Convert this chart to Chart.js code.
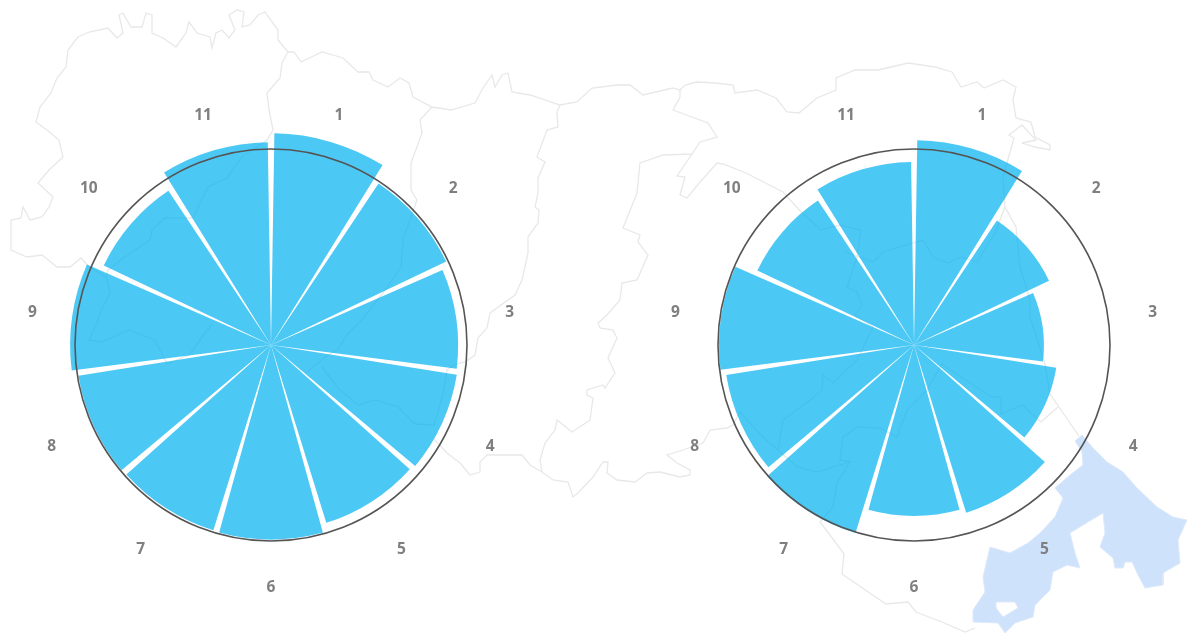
<!DOCTYPE html>
<html>
<head>
<meta charset="utf-8">
<script src="https://cdn.jsdelivr.net/npm/chart.js@4/dist/chart.umd.js"></script>
<style>
html,body{margin:0;padding:0;background:#fff;width:1188px;height:634px;overflow:hidden}
canvas{position:absolute;display:block}
</style>
</head>
<body>
<canvas id="map" width="1188" height="634" style="left:0;top:0"></canvas>
<canvas id="polarA" width="520" height="520" style="left:11px;top:85px"></canvas>
<canvas id="polarB" width="520" height="520" style="left:654px;top:85px"></canvas>
<script>
// Polar data (reference circle = 100)
const categories = ['1','2','3','4','5','6','7','8','9','10','11'];
const leftValues  = [108, 99, 95.5, 96, 95, 99.3, 99, 99.5, 102.5, 94.5, 103.5];
const rightValues = [104.5, 76.3, 66.3, 73.5, 89.6, 87.2, 100.5, 97, 99.5, 88.5, 93.4];

// Basemap outlines, as x,y pairs in page space
const mapNorthWest = [288,52,278,40,278,30,265,12,258,15,250,25,242,27,244,12,237,10,229,15,235,30,229,38,222,30,216,33,212,48,210,37,197,33,189,22,186,33,176,47,163,38,152,33,152,15,146,13,142,27,131,27,123,13,119,15,123,33,117,38,108,28,89,32,78,37,68,50,66,67,57,78,51,93,40,107,36,122,47,130,59,140,63,157,49,170,38,183,53,197,49,207,42,217,30,220,23,207,21,218,11,220,11,250,27,257,42,255,57,267,70,267,81,258,89,267,106,277,110,293,100,313,98,320,89,340,102,342,129,330,155,340,167,364,189,355,212,324];
const mapInnerWest = [288,52,282,63,280,78,267,93,269,110,273,130,267,140,242,157,227,178,208,187,193,218,165,218,152,230,150,240,125,257,108,270,106,277];
const mapNorth = [288,52,294,52,301,62,322,52,343,58,358,72,369,72,373,80,388,87,400,78,409,83,413,97,432,107,451,110,475,103,483,88,492,75,495,87,502,75,508,73,512,92,530,95,560,105,577,102,592,88,617,85,630,85,643,95,673,88,680,90,685,85,697,82,715,83,733,85,735,93,757,90,776,98,787,112,799,113,817,98,836,90,836,78,855,70,878,70,908,63,935,67,952,72,961,87,977,82,984,88,1003,80,1016,87,1013,100,1016,118,1031,122,1035,137,1050,145,1050,150,1035,147,1022,143];
const mapEastCoast = [1022,143,1036,140,1022,125,1009,135,1014,138,1003,177,1005,207,1016,227,1020,267,1030,300,1030,317,1045,364,1050,394,1079,436];
const mapDivideOne = [432,107,420,120,422,133,411,163,411,190,417,200,403,240,401,267,383,293,364,317,348,334,337,350,325,357,307,372];
const mapDivideTwo = [560,105,557,112,558,127,547,130,537,157,545,162,538,178,538,193,535,207,539,210,538,223,528,237,528,253,522,280,515,295,490,313,487,328,478,338,475,355,465,362,456,364,447,370,443,394,434,425,415,424,398,407,375,400,358,405,339,389,322,367];
const mapSouthMid = [434,439,447,453,460,463,470,475,480,472,480,462,487,455,522,455,530,465,542,472,553,480,568,482,573,497,578,493,593,477,603,462,608,462,607,473,617,480,635,482,647,473,660,472,680,477,690,475,690,470,677,463,667,455,683,450,703,443,710,430,727,428,733,425,740,412,750,423,763,437,778,450,783,420,810,400,822,390,823,375,833,383,857,360,873,327,855,315,862,305,857,292,847,287,857,257,861,230,840,225,821,230,802,213,783,192,746,173,723,164,717,163,700,182,687,198,680,195,685,177,677,176,692,154];
const mapCentral = [680,90,680,97,673,110,708,123,717,137,700,142,692,154,663,155,640,163,637,193,623,228,640,235,638,242,648,255,637,280,622,283,620,300,607,315,598,323,600,328,613,330,617,338,608,358,615,373,605,388,603,385,587,390,587,395,593,398,590,420,572,432,557,420,555,430,545,443,540,460,542,472];
const mapInnerEast = [778,450,797,467,817,472,850,462,840,460,843,437,857,427,880,428,897,437,907,410,927,390,942,364,958,375,992,397,1001,397,1001,414,1022,405,1041,422,1058,407];
const mapInnerUpper = [845,252,873,262,883,252,923,240,933,257,948,263,961,257,977,262,995,233,1005,207];
const mapSouthEast = [850,462,837,483,833,507,820,522,833,539,844,554,842,574,886,604,908,602,916,612,942,622,965,632,975,628];
const mapRegion = [1075,441,1082,435,1093,448,1107,462,1123,472,1137,488,1157,507,1173,517,1187,520,1178,540,1180,563,1163,573,1163,585,1145,588,1138,575,1132,562,1125,562,1123,568,1115,568,1113,558,1100,547,1105,533,1103,513,1088,522,1070,533,1075,553,1080,568,1067,565,1053,572,1050,590,1035,605,1033,617,1015,623,1005,633,998,623,973,622,973,610,985,592,983,577,990,547,1010,553,1028,543,1040,533,1055,517,1063,498,1055,488,1070,475,1083,465,1082,452,1075,441];
const mapRegionHole = [996,602,1015,602,1018,608,1003,617,996,608,996,602];
const mapLines = [mapNorthWest,mapInnerWest,mapNorth,mapEastCoast,mapDivideOne,mapDivideTwo,mapSouthMid,mapCentral,mapInnerEast,mapInnerUpper,mapSouthEast];

const toPoints = a => { const p = []; for (let i = 0; i < a.length; i += 2) p.push({x:a[i], y:a[i+1]}); return p; };

new Chart(document.getElementById('map'), {
  type: 'scatter',
  data: { datasets: [
    { data: toPoints(mapRegionHole), showLine:true, fill:'shape', backgroundColor:'#ffffff', borderColor:'#dfe9f7', borderWidth:1, pointRadius:0 },
    { data: toPoints(mapRegion), showLine:true, fill:'shape', backgroundColor:'#CFE2FB', borderColor:'#dde9fa', borderWidth:1, pointRadius:0 },
    ...mapLines.map(a => ({ data: toPoints(a), showLine:true, fill:false, borderColor:'#E8E8E8', borderWidth:1.3, pointRadius:0 }))
  ]},
  options: {
    responsive:false, animation:false,
    layout:{padding:0},
    plugins:{legend:{display:false}, tooltip:{enabled:false}},
    scales:{
      x:{type:'linear', display:false, min:0, max:1188},
      y:{type:'linear', display:false, reverse:true, min:0, max:634}
    }
  }
});

const wedgeAngle = 30.9, gapAngle = 360/11 - wedgeAngle;
const scaleMax = 132.65, labelValue = 123;

const sectorLabels = {
  id:'sectorLabels',
  afterDatasetsDraw(chart){
    const meta = chart.getDatasetMeta(0), r = chart.scales.r, c = chart.ctx;
    const d = r.getDistanceFromCenterForValue(labelValue);
    c.save();
    c.font = 'bold 15.5px "Noto Sans"';
    c.fillStyle = '#7F7F7F';
    c.textAlign = 'center';
    c.textBaseline = 'middle';
    meta.data.forEach((arc,i) => {
      const label = chart.data.labels[i];
      if (!label) return;
      const mid = (arc.startAngle + arc.endAngle)/2;
      c.fillText(label, r.xCenter + Math.cos(mid)*d, r.yCenter + Math.sin(mid)*d + 1.5);
    });
    c.restore();
  }
};

function polar(id, values){
  const labels = [], data = [];
  categories.forEach((cat,i) => { labels.push(cat,''); data.push(values[i],0); });
  new Chart(document.getElementById(id), {
    type:'polarArea',
    data:{ labels, datasets:[{ data, backgroundColor:'rgba(0,176,240,0.7)', borderWidth:0,
      angle: ctx => ctx.index % 2 ? gapAngle : wedgeAngle }] },
    options:{
      responsive:false, animation:false,
      layout:{padding:0},
      plugins:{legend:{display:false}, tooltip:{enabled:false}},
      scales:{ r:{
        min:0, max:scaleMax, startAngle:gapAngle/2,
        afterBuildTicks: s => { s.ticks = [{value:0},{value:100}]; },
        ticks:{display:false},
        pointLabels:{display:false},
        angleLines:{display:false},
        grid:{circular:true, color:'#555555', lineWidth:1.6, z:1}
      }}
    },
    plugins:[sectorLabels]
  });
}
polar('polarA', leftValues);
polar('polarB', rightValues);
</script>
</body>
</html>
